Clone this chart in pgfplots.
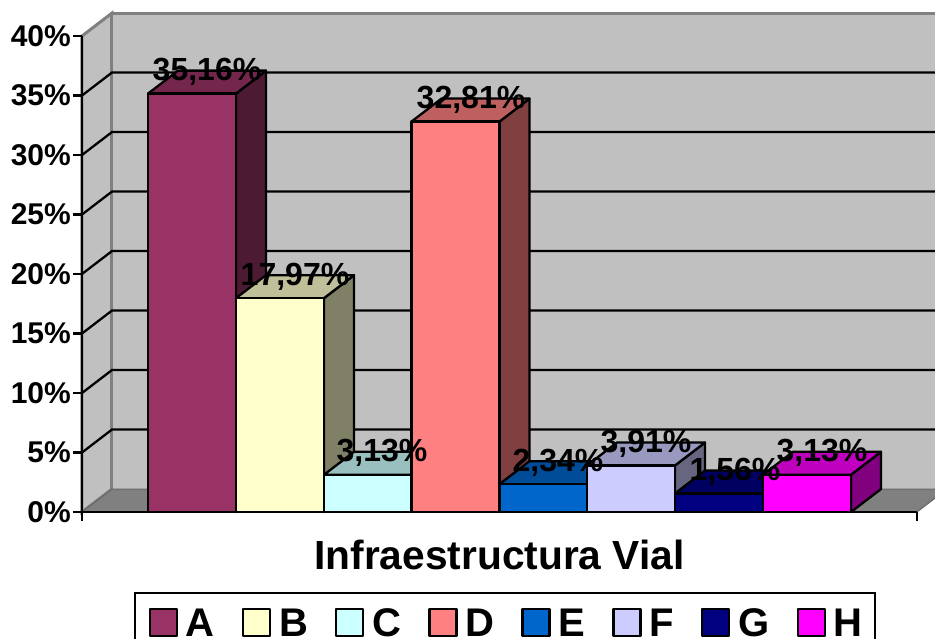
\documentclass[border=0pt]{standalone}
\usepackage{pgfplots}
\pgfplotsset{compat=1.18}
\usepackage{fontspec}
\setmainfont{Liberation Sans}

\definecolor{wall}{HTML}{C0C0C0}
\definecolor{edge}{HTML}{808080}
\definecolor{cAf}{HTML}{993366}\definecolor{cAt}{HTML}{74264D}\definecolor{cAs}{HTML}{4D1A33}
\definecolor{cBf}{HTML}{FFFFCC}\definecolor{cBt}{HTML}{BFBF99}\definecolor{cBs}{HTML}{808066}
\definecolor{cCf}{HTML}{CCFFFF}\definecolor{cCt}{HTML}{99BFBF}\definecolor{cCs}{HTML}{668080}
\definecolor{cDf}{HTML}{FF8080}\definecolor{cDt}{HTML}{BF6060}\definecolor{cDs}{HTML}{804040}
\definecolor{cEf}{HTML}{0066CC}\definecolor{cEt}{HTML}{004C99}\definecolor{cEs}{HTML}{003366}
\definecolor{cFf}{HTML}{CCCCFF}\definecolor{cFt}{HTML}{9999BF}\definecolor{cFs}{HTML}{666680}
\definecolor{cGf}{HTML}{000080}\definecolor{cGt}{HTML}{000060}\definecolor{cGs}{HTML}{000040}
\definecolor{cHf}{HTML}{FF00FF}\definecolor{cHt}{HTML}{BF00BF}\definecolor{cHs}{HTML}{800080}

% left, right, back-left, back-right x; value, value+depth; letter
\newcommand{\threedbar}[7]{%
  \addplot[draw=black, line width=2.3pt, line join=round, fill=c#7s, forget plot] coordinates {(#2,0) (#4,1.93) (#4,#6) (#2,#5)} -- cycle;
  \addplot[draw=black, line width=2.3pt, line join=round, fill=c#7t, forget plot] coordinates {(#1,#5) (#2,#5) (#4,#6) (#3,#6)} -- cycle;
  \addplot[draw=black, line width=2.3pt, line join=round, fill=c#7f] coordinates {(#1,0) (#2,0) (#2,#5) (#1,#5)} -- cycle;
}
% same height and depth for every legend letter, so the baselines agree
\newcommand{\lgd}[1]{\rule[-3pt]{0pt}{32pt}#1}

\begin{document}
\begin{tikzpicture}
\begin{axis}[
    scale only axis,
    width=835pt, height=476pt,
    xmin=82, xmax=917, ymin=0, ymax=40,
    clip=false,
    axis on top,
    axis lines=left,
    axis line style={-, black, line width=2.3pt},
    xtick={82,917}, xticklabels={},
    ytick={0,5,...,40},
    yticklabel={\pgfmathprintnumber{\tick}\%},
    /pgf/number format/assume math mode=true,
    tick style={black, line width=2.3pt},
    tick align=outside,
    major tick length=9pt,
    yticklabel style={font=\fontsize{30}{32}\selectfont\bfseries, inner sep=2pt},
    xlabel={Infraestructura Vial},
    xlabel style={font=\fontsize{40.7}{44}\selectfont\bfseries, at={(axis description cs:0.5,0)}, anchor=center, yshift=-42.5pt},
    legend columns=8,
    legend style={
        at={(0.0623,-0.1681)}, anchor=north west,
        draw=black, line width=2.3pt,
        font=\fontsize{40}{41}\selectfont\bfseries,
        inner xsep=13.5pt, inner ysep=14pt,
        nodes={inner xsep=8pt, inner ysep=0pt},
        /tikz/every even column/.append style={column sep=19pt},
    },
    legend cell align=left,
    legend image code/.code={
        \draw[#1, line width=2.3pt] (0pt,-13.5pt) rectangle (27pt,13.5pt);
    },
]
% walls and floor
\addplot[draw=edge, line width=3pt, fill=wall, forget plot] coordinates {(82,0) (112,1.93) (112,41.93) (82,40)} -- cycle;
\addplot[draw=none, fill=wall, forget plot] coordinates {(112,1.93) (947,1.93) (947,41.93) (112,41.93)} -- cycle;
\addplot[edge, line width=3pt, forget plot] coordinates {(947,41.93) (112,41.93) (112,1.93)};
\addplot[draw=edge!80!black, line width=1pt, fill=edge, forget plot] coordinates {(82,0) (112,1.93) (947,1.93) (917,0)} -- cycle;
% grid lines
\addplot[black, line width=2.3pt, forget plot] coordinates {(82,5) (112,6.93) (947,6.93)};
\addplot[black, line width=2.3pt, forget plot] coordinates {(82,10) (112,11.93) (947,11.93)};
\addplot[black, line width=2.3pt, forget plot] coordinates {(82,15) (112,16.93) (947,16.93)};
\addplot[black, line width=2.3pt, forget plot] coordinates {(82,20) (112,21.93) (947,21.93)};
\addplot[black, line width=2.3pt, forget plot] coordinates {(82,25) (112,26.93) (947,26.93)};
\addplot[black, line width=2.3pt, forget plot] coordinates {(82,30) (112,31.93) (947,31.93)};
\addplot[black, line width=2.3pt, forget plot] coordinates {(82,35) (112,36.93) (947,36.93)};
% bars
\threedbar{148}{236}{178}{266}{35.16}{37.09}{A}
\addlegendentry{\lgd{A}}
\threedbar{236}{324}{266}{354}{17.97}{19.90}{B}
\addlegendentry{\lgd{B}}
\threedbar{324}{411.5}{354}{441.5}{3.13}{5.06}{C}
\addlegendentry{\lgd{C}}
\threedbar{411.5}{499.5}{441.5}{529.5}{32.81}{34.74}{D}
\addlegendentry{\lgd{D}}
\threedbar{499.5}{587}{529.5}{617}{2.34}{4.27}{E}
\addlegendentry{\lgd{E}}
\threedbar{587}{675}{617}{705}{3.91}{5.84}{F}
\addlegendentry{\lgd{F}}
\threedbar{675}{763}{705}{793}{1.56}{3.49}{G}
\addlegendentry{\lgd{G}}
\threedbar{763}{851}{793}{881}{3.13}{5.06}{H}
\addlegendentry{\lgd{H}\kern-9pt}
% value labels
\addplot[draw=none, mark=none, forget plot,
    point meta=explicit symbolic,
    nodes near coords={\pgfplotspointmeta\%},
    every node near coord/.style={anchor=center, inner sep=0pt, yshift=21.5pt, text=black,
        font=\fontsize{32}{34}\selectfont\bfseries},
] table[meta=label] {
x y label
207 35.16 35,16
295 17.97 17,97
382 3.13 3,13
471 32.81 32,81
558 2.34 2,34
646 3.91 3,91
735 1.56 1,56
822 3.13 3,13
};
\end{axis}
\pgfresetboundingbox
\path[use as bounding box] (-82pt,-126pt) rectangle (853pt,512pt);
\end{tikzpicture}
\end{document}
